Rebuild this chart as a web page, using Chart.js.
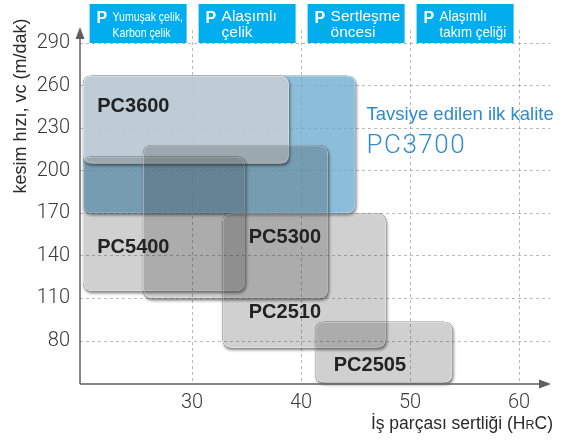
<!DOCTYPE html>
<html lang="tr">
<head>
<meta charset="utf-8">
<title>Kesim hızı / iş parçası sertliği</title>
<script src="https://cdn.jsdelivr.net/npm/chart.js@4.4.1/dist/chart.umd.min.js"></script>
<style>
  html, body { margin: 0; padding: 0; background: #fff; }
  #wrap { width: 574px; height: 445px; }
</style>
</head>
<body>
<div id="wrap"><canvas id="grades" width="574" height="445"></canvas></div>
<script>
// grade windows: hardness range (HRC) and cutting speed range (m/dak)
const grades = ['PC3700', 'PC3600', 'PC5400', 'PC5300', 'PC2510', 'PC2505'];
const hrcFrom = [20, 20, 20, 25.5, 32.8, 41.3];
const hrcTo = [45, 38.9, 34.9, 42.5, 47.8, 53.9];
const vcFrom = [170, 205, 115, 110, 75, 50.5];
const vcTo = [267, 267, 210, 218, 170, 93.5];

// workpiece groups along the top, one HRC band each
const groupNames = [['Yumuşak çelik,', 'Karbon çelik'], ['Alaşımlı', 'çelik'], ['Sertleşme', 'öncesi'], ['Alaşımlı', 'takım çeliği']];
const groupFrom = [20, 30, 40, 50];
const groupTo = [30, 40, 50, 60];

const xTicks = [30, 40, 50, 60];
const yTicks = [80, 110, 140, 170, 200, 230, 260, 290];

const recommendText = 'Tavsiye edilen ilk kalite';
const recommendGrade = 'PC3700';

// --- styling (kept apart from the data) ---
const boxFill = {
    PC3700: 'rgba(107,170,206,0.78)',
    PC3600: 'rgba(205,210,214,0.75)'
};
const grayFill = 'rgba(40,40,40,0.22)';
// where each grade name sits, in axis units
const labelAt = {
    PC3600: [21.3, 245],
    PC5400: [21.3, 146],
    PC5300: [35.2, 153],
    PC2510: [35.2, 100],
    PC2505: [43.0, 62.5]
};
const headerFont = [13, 15.5, 15.5, 14];
const headerSquash = [0.81, 1, 1, 0.95];

Chart.defaults.font.family = "'Liberation Sans', Arial, sans-serif";

function roundPath(ctx, x, y, w, h, r) {
    ctx.moveTo(x + r, y);
    ctx.lineTo(x + w - r, y);
    ctx.quadraticCurveTo(x + w, y, x + w, y + r);
    ctx.lineTo(x + w, y + h - r);
    ctx.quadraticCurveTo(x + w, y + h, x + w - r, y + h);
    ctx.lineTo(x + r, y + h);
    ctx.quadraticCurveTo(x, y + h, x, y + h - r);
    ctx.lineTo(x, y + r);
    ctx.quadraticCurveTo(x, y, x + r, y);
    ctx.closePath();
}

const gradeBoxes = {
    id: 'gradeBoxes',
    beforeDatasetsDraw(chart) {
        const ctx = chart.ctx;
        const xs = chart.scales.x, ys = chart.scales.y;
        grades.forEach((g, i) => {
            const x1 = xs.getPixelForValue(hrcFrom[i]);
            const x2 = xs.getPixelForValue(hrcTo[i]);
            const y1 = ys.getPixelForValue(vcTo[i]);
            const y2 = ys.getPixelForValue(vcFrom[i]);
            const w = x2 - x1, h = y2 - y1, r = 9;

            // drop shadow, only outside the box
            ctx.save();
            ctx.beginPath();
            ctx.rect(0, 0, chart.width, chart.height);
            roundPath(ctx, x1, y1, w, h, r);
            ctx.clip('evenodd');
            ctx.beginPath();
            roundPath(ctx, x1, y1, w, h, r);
            ctx.shadowColor = 'rgba(0,0,0,0.5)';
            ctx.shadowBlur = 3;
            ctx.shadowOffsetX = 1;
            ctx.shadowOffsetY = 2;
            ctx.fillStyle = '#000';
            ctx.fill();
            ctx.restore();

            ctx.save();
            ctx.beginPath();
            roundPath(ctx, x1, y1, w, h, r);
            ctx.fillStyle = boxFill[g] || grayFill;
            ctx.fill();
            ctx.beginPath();
            roundPath(ctx, x1 + 0.5, y1 + 0.5, w - 1, h - 1, r);
            ctx.strokeStyle = 'rgba(255,255,255,0.35)';
            ctx.lineWidth = 1;
            ctx.stroke();
            ctx.restore();
        });
    },
    afterDraw(chart) {
        const ctx = chart.ctx;
        const xs = chart.scales.x, ys = chart.scales.y;
        const area = chart.chartArea;

        // grade names
        ctx.save();
        ctx.fillStyle = '#222';
        ctx.font = "bold 20px 'Liberation Sans', Arial, sans-serif";
        ctx.textBaseline = 'middle';
        Object.keys(labelAt).forEach(g => {
            const p = labelAt[g];
            ctx.fillText(g, xs.getPixelForValue(p[0]), ys.getPixelForValue(p[1]));
        });
        ctx.restore();

        // recommendation note
        const noteX = xs.getPixelForValue(45) + 11;
        ctx.save();
        ctx.fillStyle = '#2d8ccf';
        ctx.textBaseline = 'alphabetic';
        ctx.font = "18.5px 'Liberation Sans', Arial, sans-serif";
        ctx.fillText(recommendText, noteX, 120);
        ctx.font = "300 26px Roboto, 'Liberation Sans', sans-serif";
        ctx.letterSpacing = '1.5px';
        ctx.fillText(recommendGrade, noteX, 153);
        ctx.restore();

        // axes with arrow heads
        ctx.save();
        ctx.strokeStyle = '#5f5f5f';
        ctx.fillStyle = '#5f5f5f';
        ctx.lineWidth = 1.5;
        ctx.beginPath();
        ctx.moveTo(area.left, area.bottom);
        ctx.lineTo(area.left, area.top + 6);
        ctx.moveTo(area.left, area.bottom);
        ctx.lineTo(area.right - 8, area.bottom);
        ctx.stroke();
        ctx.beginPath();
        ctx.moveTo(area.left, area.top - 3);
        ctx.lineTo(area.left - 4.5, area.top + 9);
        ctx.lineTo(area.left + 4.5, area.top + 9);
        ctx.closePath();
        ctx.fill();
        ctx.beginPath();
        ctx.moveTo(area.right + 1, area.bottom);
        ctx.lineTo(area.right - 11, area.bottom - 4.5);
        ctx.lineTo(area.right - 11, area.bottom + 4.5);
        ctx.closePath();
        ctx.fill();
        ctx.restore();

        // workpiece group headers
        ctx.save();
        groupNames.forEach((lines, i) => {
            const x1 = xs.getPixelForValue(groupFrom[i] + 0.6);
            const x2 = xs.getPixelForValue(groupTo[i] - 0.5);
            ctx.fillStyle = '#00aeef';
            ctx.fillRect(x1, 4, x2 - x1, 39);
            ctx.fillStyle = '#fff';
            ctx.textBaseline = 'alphabetic';
            ctx.font = "bold 16px 'Liberation Sans', Arial, sans-serif";
            ctx.fillText('P', x1 + 7, 22.5);
            ctx.font = headerFont[i] + "px 'Liberation Sans', Arial, sans-serif";
            lines.forEach((t, k) => {
                const tw = ctx.measureText(t).width * headerSquash[i];
                ctx.fillText(t, x1 + 23, k === 0 ? 20.5 : 37, tw);
            });
        });
        ctx.restore();

        // axis titles
        ctx.save();
        ctx.fillStyle = '#2a2a2a';
        ctx.font = "18px 'Liberation Sans', Arial, sans-serif";
        ctx.translate(21, 106);
        ctx.rotate(-Math.PI / 2);
        ctx.textAlign = 'center';
        ctx.textBaseline = 'middle';
        ctx.fillText('kesim hızı, vc (m/dak)', 0, 0);
        ctx.restore();

        ctx.save();
        ctx.fillStyle = '#2a2a2a';
        ctx.textBaseline = 'alphabetic';
        const big = "17.5px 'Liberation Sans', Arial, sans-serif";
        const small = "12.5px 'Liberation Sans', Arial, sans-serif";
        const parts = [['İş parçası sertliği (H', big], ['R', small], ['C)', big]];
        const widths = parts.map(p => { ctx.font = p[1]; return ctx.measureText(p[0]).width; });
        let xp = 553 - widths.reduce((a, b) => a + b, 0);
        parts.forEach((p, k) => {
            ctx.font = p[1];
            ctx.fillText(p[0], xp, 429);
            xp += widths[k];
        });
        ctx.restore();
    }
};

const tickFont = { family: "Roboto, 'Liberation Sans', sans-serif", size: 20, weight: '300' };

const chart = new Chart(document.getElementById('grades'), {
    type: 'scatter',
    data: {
        datasets: grades.map((g, i) => ({
            label: g,
            data: [{ x: hrcFrom[i], y: vcFrom[i] }, { x: hrcTo[i], y: vcTo[i] }],
            pointRadius: 0,
            showLine: false
        }))
    },
    options: {
        responsive: false,
        animation: false,
        layout: { padding: { top: 30, right: 24, left: 0, bottom: 0 } },
        plugins: { legend: { display: false }, tooltip: { enabled: false } },
        scales: {
            x: {
                type: 'linear',
                z: 1, // grid over the boxes, like the original
                min: 19.72,
                max: 62.84,
                afterBuildTicks: s => { s.ticks = xTicks.map(v => ({ value: v })); },
                afterFit: s => { s.height = 61; },
                grid: { color: 'rgba(120,120,120,0.5)', drawTicks: false },
                border: { display: false, dash: [3, 3] },
                ticks: { padding: 7, maxRotation: 0, color: '#3a3a3a', font: tickFont }
            },
            y: {
                type: 'linear',
                z: 1,
                min: 49.7,
                max: 299.2,
                afterBuildTicks: s => { s.ticks = yTicks.map(v => ({ value: v })); },
                afterFit: s => { s.width = 80; },
                grid: { color: 'rgba(120,120,120,0.5)', drawTicks: false },
                border: { display: false, dash: [3, 3] },
                ticks: { padding: 10, color: '#3a3a3a', font: tickFont }
            }
        }
    },
    plugins: [gradeBoxes]
});
</script>
</body>
</html>
